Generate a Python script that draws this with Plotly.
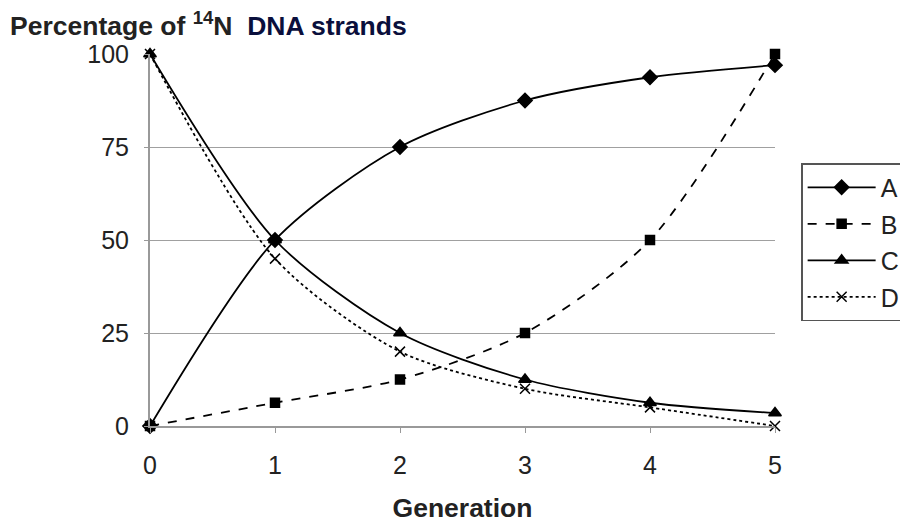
import plotly.graph_objects as go

generations = [0, 1, 2, 3, 4, 5]
series_a = [0, 50, 75, 87.5, 93.75, 97]
series_b = [0, 6.25, 12.5, 25, 50, 100]
series_c = [100, 50, 25, 12.5, 6.25, 3.5]
series_d = [100, 45, 20, 10, 5, 0]
y_ticks = [0, 25, 50, 75, 100]

fig = go.Figure()
specs = [
    ("A", series_a, "solid", "diamond", 11),
    ("B", series_b, "dash", "square", 9),
    ("C", series_c, "solid", "triangle-up", 11),
    ("D", series_d, "dot", "x-thin", 10),
]
for name, ys, dash, sym, size in specs:
    fig.add_trace(go.Scatter(
        x=generations, y=ys, name=name, mode="lines+markers", legendgroup=name,
        line=dict(color="black", width=1.8, dash=dash, shape="spline", smoothing=0.8),
        marker=dict(symbol=sym, size=size, color="black",
                    line=dict(color="black", width=1.5)),
        cliponaxis=False,
    ))

fig.update_layout(
    width=908, height=522,
    margin=dict(l=142, r=141, t=46, b=102),
    plot_bgcolor="white", paper_bgcolor="white",
    font=dict(family="Arial, Liberation Sans, sans-serif", size=25, color="#222"),
    showlegend=True,
    legend=dict(
        xref="container", yref="container",
        x=0.8735, y=0.703, xanchor="left", yanchor="top",
        bordercolor="#555", borderwidth=1.5, bgcolor="white",
        font=dict(size=25, color="#222"), tracegroupgap=1,
        itemwidth=68,
    ),
    xaxis=dict(
        range=[0, 5], tickvals=generations, showgrid=False, zeroline=False,
        showline=True, linecolor="#999", linewidth=2,
        ticks="outside", ticklen=5, tickcolor="#999", ticklabelstandoff=11,
        title=dict(text="<b>Generation</b>", font=dict(size=26.5, color="#222"), standoff=20),
    ),
    yaxis=dict(
        range=[0, 100], tickvals=y_ticks, showgrid=True, gridcolor="#a0a0a0", gridwidth=1.2,
        zeroline=False, showline=True, linecolor="#999", linewidth=2,
        ticks="outside", ticklen=4, tickcolor="#999", ticklabelstandoff=10,
    ),
    annotations=[dict(
        text="<b>Percentage of <sup>14</sup>N&nbsp;&nbsp;<span style='color:#0a0f3c'>DNA strands</span></b>",
        xref="paper", yref="paper", x=-0.227, y=1.0, yshift=30,
        xanchor="left", yanchor="middle", showarrow=False,
        font=dict(size=26.5, color="#222"),
    )],
)

fig.write_html("out.html", post_script="document.documentElement.style.overflow='hidden';document.body.style.overflow='hidden';")
